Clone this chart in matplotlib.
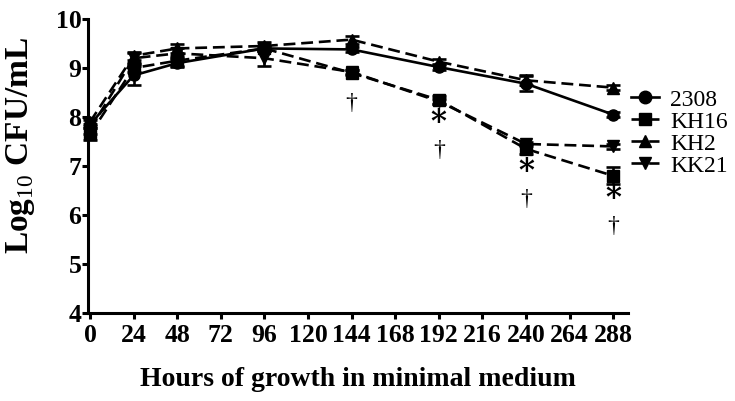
import matplotlib.pyplot as plt
from matplotlib.lines import Line2D

# growth of strains in minimal medium
hours = [0, 24, 48, 96, 144, 192, 240, 288]

wt_2308 = [7.85, 8.85, 9.10, 9.40, 9.38, 9.02, 8.68, 8.05]
wt_2308_err = [0.08, 0.20, 0.08, 0.05, 0.05, 0.05, 0.15, 0.05]

kh16 = [7.65, 9.00, 9.15, 9.40, 8.90, 8.35, 7.35, 6.80]
kh16_err = [0.12, 0.08, 0.10, 0.05, 0.05, 0.08, 0.10, 0.17]

kh2 = [7.90, 9.25, 9.40, 9.45, 9.58, 9.13, 8.75, 8.60]
kh2_err = [0.08, 0.08, 0.10, 0.08, 0.08, 0.05, 0.10, 0.05]

kk21 = [7.75, 9.20, 9.30, 9.20, 8.92, 8.32, 7.45, 7.40]
kk21_err = [0.10, 0.10, 0.10, 0.15, 0.05, 0.05, 0.05, 0.05]

# significance marks under the KH16 points
star_hours = [192, 240, 288]
dagger_hours = [144, 192, 240, 288]

plt.rcParams['font.family'] = ['Liberation Serif', 'DejaVu Serif']
plt.rcParams['mathtext.fontset'] = 'custom'
plt.rcParams['mathtext.rm'] = 'Liberation Serif'
plt.rcParams['mathtext.bf'] = 'Liberation Serif:bold'

fig = plt.figure(figsize=(7.35, 4.01), dpi=100)
ax = fig.add_axes([0.12, 0.2195, 0.734, 0.733])

lw = 1.9
dash = (0, (4.5, 2.2))
series = [
    ('2308', wt_2308, wt_2308_err, 'o', '-'),
    ('KH16', kh16, kh16_err, 's', dash),
    ('KH2', kh2, kh2_err, '^', dash),
    ('KK21', kk21, kk21_err, 'v', dash),
]
handles = []
for name, vals, err, mk, ls in series:
    ax.errorbar(hours, vals, yerr=err, color='black', marker=mk, markersize=8,
                linestyle=ls, linewidth=lw, elinewidth=lw, capsize=5,
                capthick=lw, clip_on=False)
    handles.append(Line2D([], [], color='black', marker=mk, markersize=9,
                          linestyle=ls, linewidth=lw, label=name))

kh16_at = dict(zip(hours, kh16))
for h in star_hours:
    ax.text(h, kh16_at[h] - 0.47, '*', ha='center', va='center',
            fontsize=22, fontweight='bold', family='DejaVu Serif')
for h in dagger_hours:
    off = 1.04 if h in star_hours else 0.62
    ax.text(h, kh16_at[h] - off, '\u2020', ha='center', va='center',
            fontsize=17)

ax.set_xlim(-1, 296)
ax.set_ylim(4, 10)
ax.set_xticks(range(0, 289, 24))
ax.set_yticks(range(4, 11))
for s in ['top', 'right']:
    ax.spines[s].set_visible(False)
for s in ['left', 'bottom']:
    ax.spines[s].set_linewidth(2.2)
ax.tick_params(width=2.2, length=4, labelsize=18.5)
for lab in ax.get_xticklabels() + ax.get_yticklabels():
    lab.set_fontweight('bold')
ax.tick_params(axis='x', pad=4)
ax.tick_params(axis='y', pad=1)

ax.set_xlabel('Hours of growth in minimal medium', fontsize=20,
              fontweight='bold', labelpad=14)
ax.set_ylabel(r'Log$_{\mathrm{10}}$ CFU/mL', fontsize=24, fontweight='bold')
ax.yaxis.set_label_coords(-0.095, 0.57)

ax.legend(handles=handles, loc='upper left', bbox_to_anchor=(0.98, 0.81),
          frameon=False, fontsize=17, handlelength=1.2, handletextpad=0.45,
          labelspacing=0.02, borderaxespad=0.2)

fig.savefig('out.png', dpi=100)
